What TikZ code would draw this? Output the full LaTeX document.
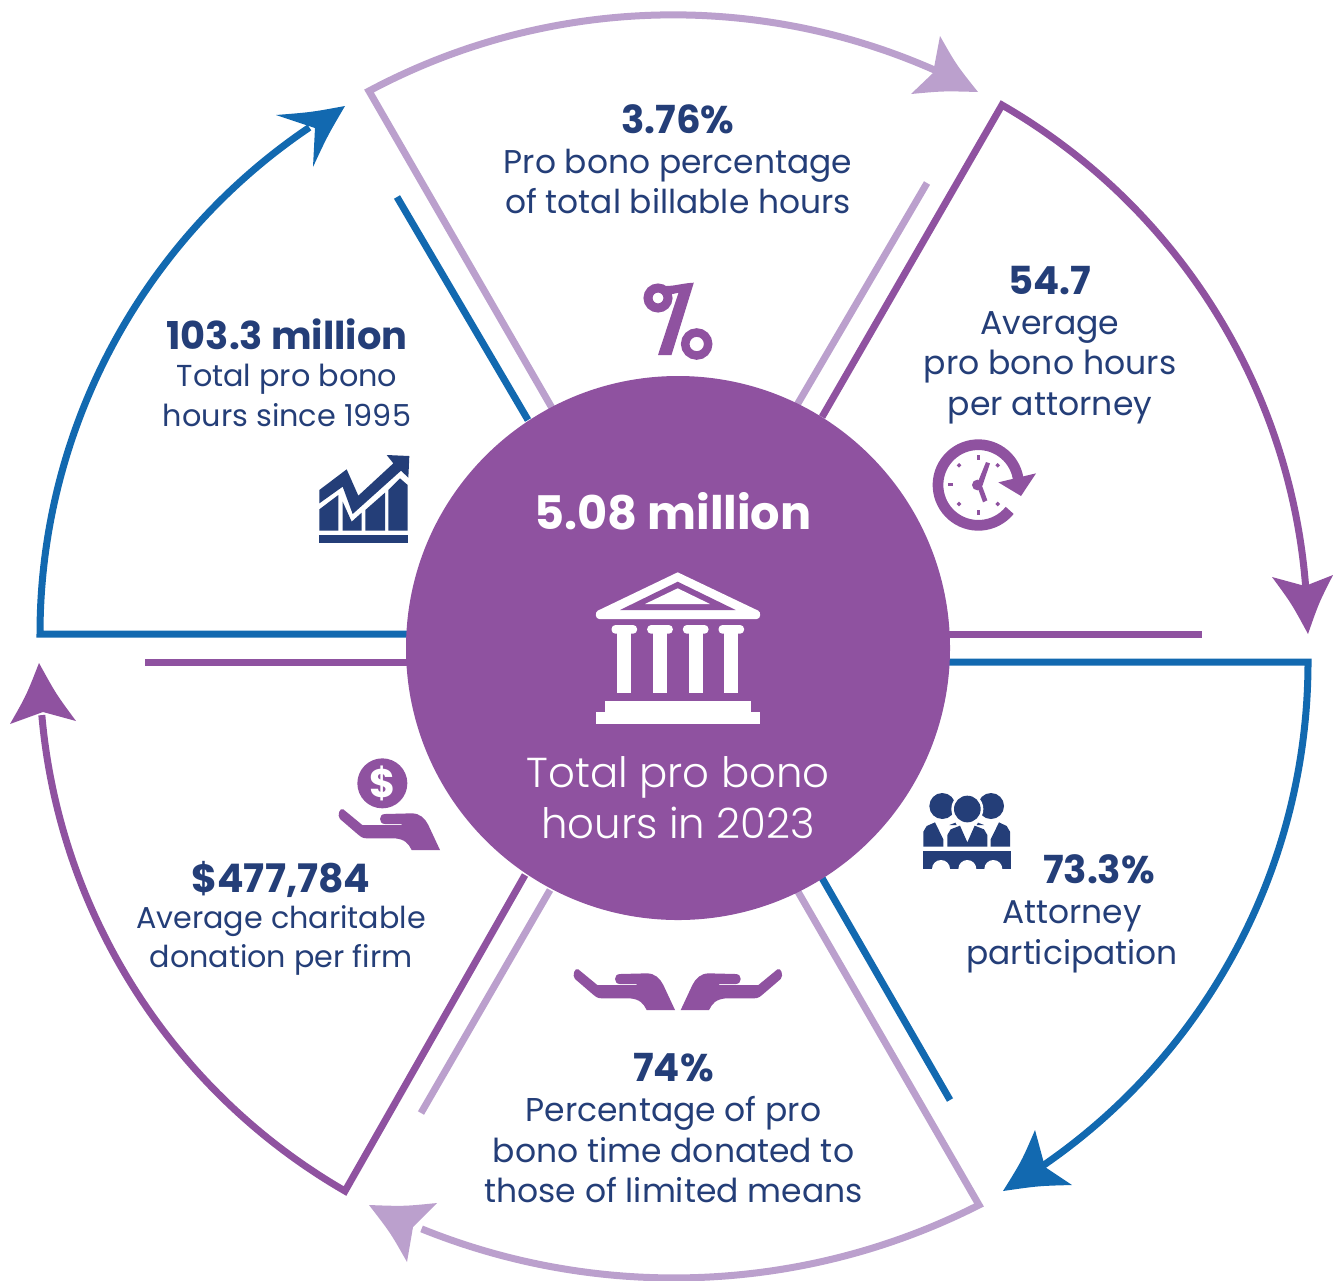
\documentclass[tikz,border=0pt]{standalone}
\usepackage{fontspec}
\usetikzlibrary{calc}
\setmainfont{Poppins}
\newfontfamily\lightfont{Poppins Light}
\definecolor{hubpurple}{RGB}{143,82,160}
\definecolor{paleviolet}{RGB}{187,160,205}
\definecolor{rimblue}{RGB}{18,105,176}
\definecolor{navy}{RGB}{36,62,120}
\tikzset{
  rim/.style={line width=7bp,line cap=butt,line join=miter,miter limit=10},
  stat/.style={text=navy,align=center,anchor=base,inner sep=0pt},
}
\newcommand\bigfig[2]{{\bfseries\fontsize{#1}{40}\selectfont #2}}
\newcommand\statsize[2]{\fontsize{#1}{#2}\selectfont}
\newcommand\archead[5]{\fill[#1] (#2) .. controls ($(#2)!.5!(#3)!.1!(#5)$) .. (#3) -- (#5) -- (#4) .. controls ($(#2)!.5!(#4)!.1!(#5)$) .. (#2) -- cycle;}
\newcommand\handshape{(40,178) -- (97,225) -- (215,225) -- (215,222) -- (165,222) .. controls (145,222) and (145,192) .. (165,192) -- (245,190) .. controls (270,190) and (285,205) .. (295,225) -- (330,300) -- (245,300) .. controls (235,280) and (225,268) .. (195,265) -- (110,265) .. controls (95,265) and (90,258) .. (80,250) -- (30,207) .. controls (20,197) and (30,170) .. (40,178) -- cycle}
\begin{document}
\begin{tikzpicture}[x=1bp,y=-1bp]
\useasboundingbox (0,0) rectangle (1333,1280);
% top sector
\draw[rim,paleviolet] (552,408) -- (369,91) arc[start angle=-118.1,end angle=-65,radius=646];
\draw[rim,paleviolet] (797,405) -- (927,183);
\archead{paleviolet}{978,92}{940,36}{911,94}{933,73}
% right upper sector
\draw[rim,hubpurple] (822,417) -- (1002,105) arc[start angle=-60,end angle=-3,radius=611];
\draw[rim,hubpurple] (948,634) -- (1202,634);
\archead{hubpurple}{1308,634}{1272,577}{1333,575}{1305,586}
% right lower sector
\draw[rim,rimblue] (948,662) -- (1308,662) arc[start angle=0,end angle=56,radius=611];
\draw[rim,rimblue] (822,878) -- (950,1100);
\archead{rimblue}{1003,1191}{1035,1130}{1072,1185}{1045,1167}
% bottom sector
\draw[rim,paleviolet] (797,890) -- (979,1205) arc[start angle=63.1,end angle=112,radius=674];
\draw[rim,paleviolet] (550,890) -- (421,1113);
\archead{paleviolet}{369,1205}{437,1203}{407,1262}{413,1227}
% left lower sector
\draw[rim,hubpurple] (525,875) -- (345,1191) arc[start angle=120,end angle=175,radius=611];
\draw[rim,hubpurple] (407,662) -- (145,662);
\archead{hubpurple}{39,663}{10,724}{76,721}{43,712}
% left upper sector
\draw[rim,rimblue] (407,634) -- (40,634) arc[start angle=180,end angle=236,radius=611];
\draw[rim,rimblue] (528,420) -- (397,197);
\archead{rimblue}{345,106}{276,115}{313,167}{315,128}
% hub
\node[circle,fill=hubpurple,minimum size=544bp,inner sep=0pt] (hub) at (678,648) {};
% temple
\fill[white] (677.7,572.3) -- (758.3,610.7) .. controls (761,612) and (761,619) .. (756.7,619) -- (599.3,619) .. controls (595,619) and (595,612) .. (597.7,610.7) -- cycle;
\fill[hubpurple] (677.7,581.7) -- (735.7,610) -- (620,610) -- cycle;
\fill[white] (677.7,588.3) -- (710,604) -- (645,604) -- cycle;
\foreach \cx in {624.3,660,695.7,731.3}{
  \fill[white,rounded corners=4bp] (\cx-12.8,625) rectangle (\cx+12.8,633.7);
  \fill[white] (\cx-7,632) rectangle (\cx+7,692.7);
}
\fill[white] (604.7,700.7) rectangle (751.3,713);
\fill[white] (595.7,712) rectangle (760.3,724);
% percent
\draw[hubpurple,line width=9bp] (658,298) circle[radius=10];
\draw[hubpurple,line width=8.5bp] (696.7,344) circle[radius=11.5];
\fill[hubpurple] (666,286) .. controls (675,286) and (684,283) .. (693.8,282.7) -- (671.5,355) -- (658,355) -- (678.5,292.7) -- (668,295) -- cycle;
% clock
\begin{scope}[shift={(900,420)},scale=0.33333]
  \draw[hubpurple,line width=10.7bp] (235,195) ++(-4:121) arc[start angle=-4,end angle=-321,radius=121];
  \fill[hubpurple] (295,187) -- (408,160) -- (363,228) -- cycle;
  \fill[hubpurple] (231,105) rectangle (240,120);
  \fill[hubpurple] (231,270) rectangle (240,285);
  \fill[hubpurple] (145,189) rectangle (160,197);
  \foreach \dx/\dy in {177/136,293/136,177/252,293/252}
    \fill[hubpurple] (\dx,\dy-7) -- (\dx+7,\dy) -- (\dx,\dy+7) -- (\dx-7,\dy) -- cycle;
  \fill[hubpurple] (232,195) circle[radius=16];
  \fill[hubpurple] (258,126) -- (270,130) -- (248,195) -- (232,190) -- cycle;
  \fill[hubpurple] (232,200) -- (247,200) -- (262,241) -- (249,247) -- cycle;
\end{scope}
% chart
\begin{scope}[shift={(300,440)},scale=0.33333,navy]
  \fill (58,150) -- (140,88) -- (175,167) -- (280,70) -- (260,45) -- (328,48) -- (325,113) -- (303,92) -- (158,222) -- (128,140) -- (58,190) -- cycle;
  \fill (58,208) -- (115,165) -- (115,272) -- (58,272) -- cycle;
  \fill (128,185) -- (155,245) -- (185,218) -- (185,272) -- (128,272) -- cycle;
  \fill (196,210) -- (255,158) -- (255,272) -- (196,272) -- cycle;
  \fill (265,150) -- (300,115) -- (323,135) -- (323,272) -- (265,272) -- cycle;
  \fill (57,285) rectangle (324,308);
\end{scope}
% people
\begin{scope}[shift={(910,780)},scale=0.33333,navy]
  \fill (97,78) circle[radius=39];
  \fill (243,78) circle[radius=39];
  \fill[white] (172,87) circle[radius=48];
  \fill (172,87) circle[radius=40];
  \fill (40,200) -- (40,155) -- (50,138) -- (75,127) -- (100,178) -- (100,200) -- cycle;
  \fill (242,200) -- (242,178) -- (267,127) -- (290,138) -- (300,155) -- (300,200) -- cycle;
  \fill (112,200) -- (112,165) -- (122,148) -- (150,137) -- (172,187) -- (194,137) -- (222,148) -- (232,165) -- (232,200) -- cycle;
  \fill (118,135) -- (136,128) -- (140,135) -- cycle;
  \fill (222,135) -- (204,128) -- (200,135) -- cycle;
  \fill (40,212) rectangle (302,266);
  \fill[white] (93,267) circle[radius=27];
  \fill[white] (172,267) circle[radius=27];
  \fill[white] (250,267) circle[radius=27];
  \fill[white] (30,267) rectangle (310,275);
\end{scope}
% coin in hand
\begin{scope}[shift={(330,750)},scale=0.33333]
  \fill[hubpurple] (157,100) circle[radius=75];
  \fill[hubpurple] \handshape;
\end{scope}
\node[font=\bfseries\fontsize{40}{40}\selectfont,text=white,inner sep=0pt] (coin) at (382.3,783) {\$};
% two hands
\begin{scope}[shift={(565,910)},scale=0.33333]
  \fill[hubpurple] \handshape;
\end{scope}
\begin{scope}[shift={(790.7,910)},xscale=-0.33333,yscale=0.33333]
  \fill[hubpurple] \handshape;
\end{scope}
% texts
\node[stat,font=\statsize{33}{40}] (t1) at (678,213) {\bigfig{38.8}{3.76\%}\\Pro bono percentage\\of total billable hours};
\node[stat,font=\statsize{33.2}{40.6}] (t2) at (1050,415) {\bigfig{38.8}{54.7}\\[-1bp]Average\\pro bono hours\\per attorney};
\node[stat,font=\statsize{30.4}{39.9}] (t3) at (287,426) {\bigfig{38.5}{103.3 million}\\[-2.5bp]Total pro bono\\hours since 1995};
\node[stat,font=\statsize{30.3}{38.8}] (t4) at (281,967) {\bigfig{39.5}{\$477,784}\\[-2.5bp]Average charitable\\donation per firm};
\node[stat,font=\statsize{33}{40.5}] (t5) at (1072,964) {\bigfig{38.8}{\hspace*{54bp}73.3\%}\\Attorney\\participation};
\node[stat,font=\statsize{33.1}{40.5}] (t6) at (673.5,1202.5) {\bigfig{38.8}{74\%}\\Percentage of pro\\bono time donated to\\those of limited means};
\node[font=\bfseries\fontsize{46.4}{46}\selectfont,text=white,anchor=base,inner sep=0pt] (h1) at (673,529) {5.08 million};
\node[font=\lightfont\fontsize{42}{51}\selectfont,text=white,anchor=base,align=center,inner sep=0pt] (h2) at (678,838) {Total pro bono\\hours in 2023};
\end{tikzpicture}
\end{document}
